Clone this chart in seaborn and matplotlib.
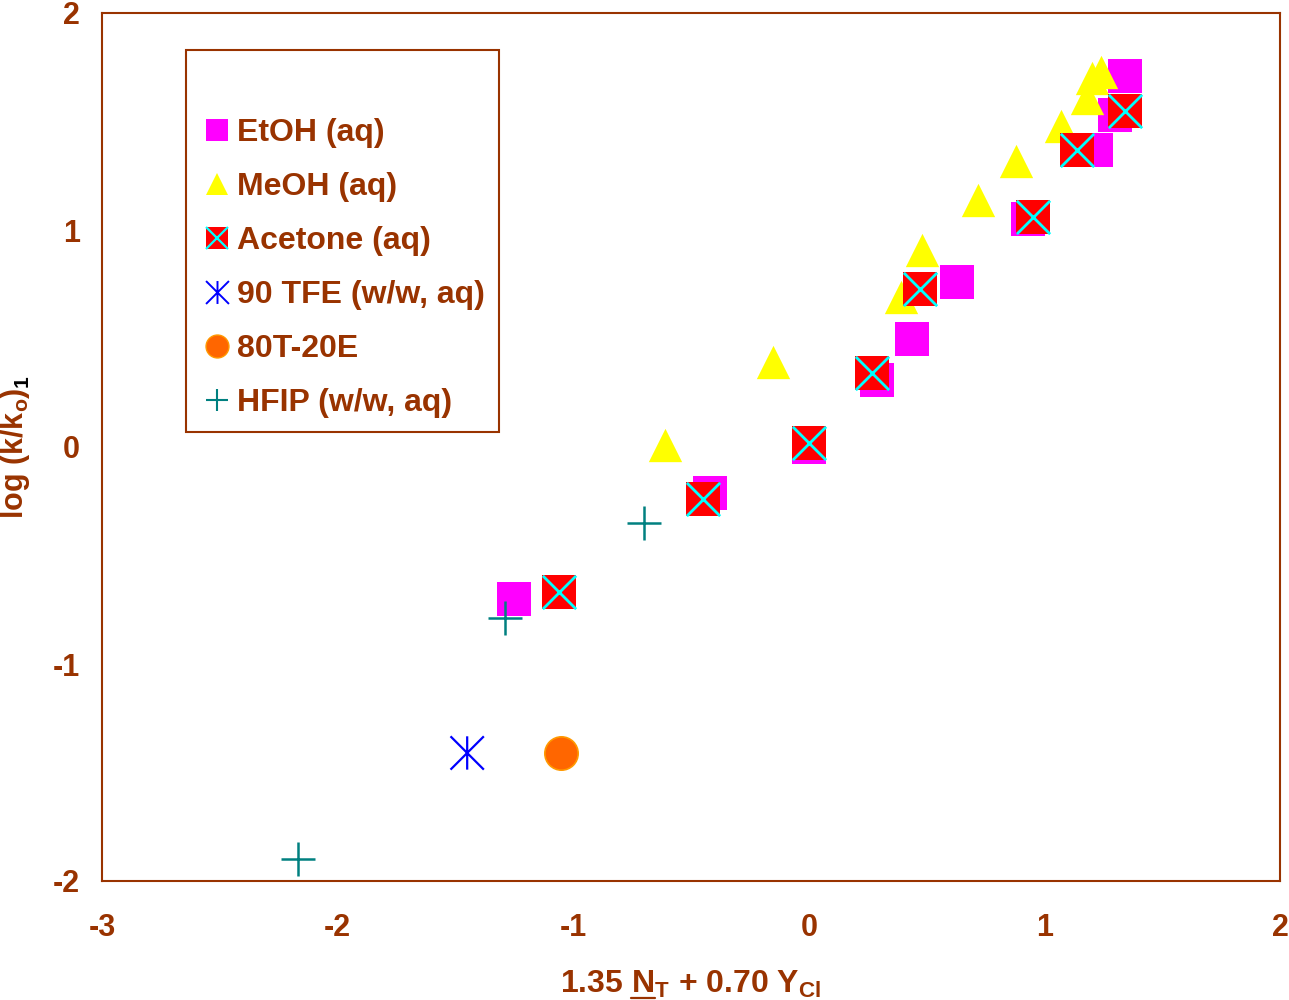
import numpy as np
import pandas as pd
import matplotlib
matplotlib.use("Agg")
import matplotlib.pyplot as plt
import seaborn as sns
from matplotlib.path import Path
from matplotlib.lines import Line2D

# ---------------- data ----------------
etoh_x = [-1.25, -0.42, 0.00, 0.29, 0.44, 0.63, 0.93, 1.22, 1.30, 1.34]
etoh_y = [-0.70, -0.21, 0.00, 0.31, 0.50, 0.76, 1.05, 1.37, 1.53, 1.71]
meoh_x = [-0.61, -0.15, 0.39, 0.48, 0.72, 0.88, 1.07, 1.18, 1.20, 1.24]
meoh_y = [0.01, 0.39, 0.69, 0.91, 1.14, 1.32, 1.48, 1.61, 1.70, 1.73]
acet_x = [-1.06, -0.45, 0.00, 0.27, 0.47, 0.95, 1.14, 1.34]
acet_y = [-0.67, -0.24, 0.02, 0.34, 0.73, 1.06, 1.37, 1.55]
tfe_x = [-1.45]
tfe_y = [-1.41]
t80_x = [-1.05]
t80_y = [-1.41]
hfip_x = [-2.17, -1.29, -0.70]
hfip_y = [-1.90, -0.79, -0.35]

series_labels = ["EtOH (aq)", "MeOH (aq)", "Acetone (aq)", "90 TFE (w/w, aq)",
                 "80T-20E", "HFIP (w/w, aq)"]
x_ticks = [-3, -2, -1, 0, 1, 2]
y_ticks = [-2, -1, 0, 1, 2]

# ---------------- style ----------------
BROWN = "#993300"
MAGENTA = "#FF00FF"
YELLOW = "#FFFF00"
RED = "#FF0000"
CYAN = "#00FFFF"
BLUE = "#0000FF"
ORANGE = "#FF6600"
ORANGE_EDGE = "#FF9900"
TEAL = "#008080"

sns.set_style("white")
plt.rcParams["font.family"] = ["Liberation Sans", "DejaVu Sans"]
plt.rcParams["font.weight"] = "bold"
plt.rcParams["mathtext.fontset"] = "custom"
for k in ["rm", "it", "bf", "sf"]:
    plt.rcParams["mathtext." + k] = "Liberation Sans:bold"
plt.rcParams["mathtext.default"] = "rm"

asterisk = Path([(-1, -1), (1, 1), (-1, 1), (1, -1), (0, -1), (0, 1)],
                [Path.MOVETO, Path.LINETO, Path.MOVETO, Path.LINETO,
                 Path.MOVETO, Path.LINETO])

W, H = 1289, 1000
fig = plt.figure(figsize=(W / 100, H / 100), dpi=100)
ax = fig.add_axes([102 / W, 119 / H, 1178 / W, 868 / H])

MS = 24.0  # marker size in points
S = MS ** 2

sns.scatterplot(x=etoh_x, y=etoh_y, marker="s", s=S, color=MAGENTA,
                edgecolor=MAGENTA, linewidth=0, ax=ax, zorder=3)
sns.scatterplot(x=meoh_x, y=meoh_y, marker="^", s=S, color=YELLOW,
                edgecolor=YELLOW, linewidth=0, ax=ax, zorder=4)
sns.scatterplot(x=acet_x, y=acet_y, marker="s", s=S, color=RED,
                edgecolor=RED, linewidth=0, ax=ax, zorder=5)
sns.scatterplot(x=acet_x, y=acet_y, marker="x", s=S, color=CYAN,
                edgecolor=CYAN, linewidth=2.0, ax=ax, zorder=6)
sns.scatterplot(x=tfe_x, y=tfe_y, marker=asterisk, s=S, facecolor="none",
                edgecolor=BLUE, linewidth=1.6, ax=ax, zorder=7)
sns.scatterplot(x=t80_x, y=t80_y, marker="o", s=S, color=ORANGE,
                edgecolor=ORANGE_EDGE, linewidth=1.2, ax=ax, zorder=8)
sns.scatterplot(x=hfip_x, y=hfip_y, marker="+", s=S, color=TEAL,
                edgecolor=TEAL, linewidth=1.8, ax=ax, zorder=9)

ax.set_xlim(-3, 2)
ax.set_ylim(-2, 2)
ax.set_xticks(x_ticks)
ax.set_yticks(y_ticks)
ax.set_xticklabels([str(t) for t in x_ticks])
ax.set_yticklabels([str(t) for t in y_ticks])
ax.tick_params(axis="both", direction="out", length=7, width=1.5,
               color=BROWN, labelcolor=BROWN, labelsize=22)
ax.tick_params(axis="x", pad=16)
ax.tick_params(axis="y", pad=9)
for sp in ax.spines.values():
    sp.set_visible(True)
    sp.set_color(BROWN)
    sp.set_linewidth(1.5)
ax.grid(False)
ax.set_xlabel("")
ax.set_ylabel("")

# ---------------- legend ----------------
LMS = 16.5
blank = Line2D([], [], linestyle="none", marker=None)
h_etoh = Line2D([], [], linestyle="none", marker="s", markersize=LMS,
                markerfacecolor=MAGENTA, markeredgewidth=0)
h_meoh = Line2D([], [], linestyle="none", marker="^", markersize=LMS,
                markerfacecolor=YELLOW, markeredgewidth=0)
h_acet_sq = Line2D([], [], linestyle="none", marker="s", markersize=LMS,
                   markerfacecolor=RED, markeredgewidth=0)
h_acet_x = Line2D([], [], linestyle="none", marker="x", markersize=LMS,
                  markeredgecolor=CYAN, markeredgewidth=1.6)
h_tfe = Line2D([], [], linestyle="none", marker=asterisk, markersize=LMS,
               markerfacecolor="none", markeredgecolor=BLUE, markeredgewidth=1.4)
h_t80 = Line2D([], [], linestyle="none", marker="o", markersize=LMS,
               markerfacecolor=ORANGE, markeredgecolor=ORANGE_EDGE,
               markeredgewidth=1.0)
h_hfip = Line2D([], [], linestyle="none", marker="+", markersize=LMS,
                markeredgecolor=TEAL, markeredgewidth=1.5)
handles = [blank, h_etoh, h_meoh, (h_acet_sq, h_acet_x), h_tfe, h_t80, h_hfip]
labels = [" "] + series_labels
leg = ax.legend(handles, labels, loc="upper left",
                bbox_to_anchor=((186 - 102) / 1178, (881 - 50) / 868),
                borderaxespad=0, frameon=True, fancybox=False,
                fontsize=23, handlelength=1.06, handletextpad=0.1,
                borderpad=0.44, labelspacing=0.75)
leg.get_frame().set_edgecolor(BROWN)
leg.get_frame().set_linewidth(1.5)
leg.get_frame().set_facecolor("white")
leg.get_frame().set_alpha(1)
for t in leg.get_texts():
    t.set_color(BROWN)
    t.set_fontweight("bold")

# ---------------- axis labels ----------------
XFS = 23
xl_x = (102 + 1280) / 2 / W
xl = fig.text(xl_x, (H - 993) / H, r"1.35 N$_{T}$ + 0.70 Y$_{Cl}$",
              ha="center", va="baseline", color=BROWN, fontsize=XFS,
              fontweight="bold")

yl = ax.text(-0.074, 0.5, r"log (k/k$_{o}$)", rotation=90,
             transform=ax.transAxes, ha="center", va="center",
             color=BROWN, fontsize=22, fontweight="bold")

fig.canvas.draw()
r = fig.canvas.get_renderer()

# underline under N in x label
bb = xl.get_window_extent(r)
t1 = fig.text(0, 0, r"1.35 N", fontsize=XFS, fontweight="bold")
t2 = fig.text(0, 0, r"N", fontsize=XFS, fontweight="bold")
w1 = t1.get_window_extent(r).width
w2 = t2.get_window_extent(r).width
t1.remove()
t2.remove()
nx1 = bb.x0 + w1
nx0 = nx1 - w2
base_y = H - 993
uy = base_y - 5
fig.add_artist(Line2D([nx0 / W, nx1 / W], [uy / H, uy / H],
                      transform=fig.transFigure, color=BROWN, linewidth=1.6))

# subscript "1" on y label, in black
one = fig.text(0, 0, "1", rotation=90, fontsize=15, fontweight="bold",
               color="black", ha="right", va="bottom")
oh = one.get_window_extent(r).height
ax_bb = ax.get_window_extent(r)
cy = (ax_bb.y0 + ax_bb.y1) / 2
main_cy = cy - oh / 2
inv = ax.transAxes.inverted()
yl.set_position((-0.074, inv.transform((0, main_cy))[1]))
fig.canvas.draw()
ybb = yl.get_window_extent(r)
one.set_position((ybb.x1 / W, ybb.y1 / H))

fig.savefig("out.png", dpi=100, facecolor="white")
